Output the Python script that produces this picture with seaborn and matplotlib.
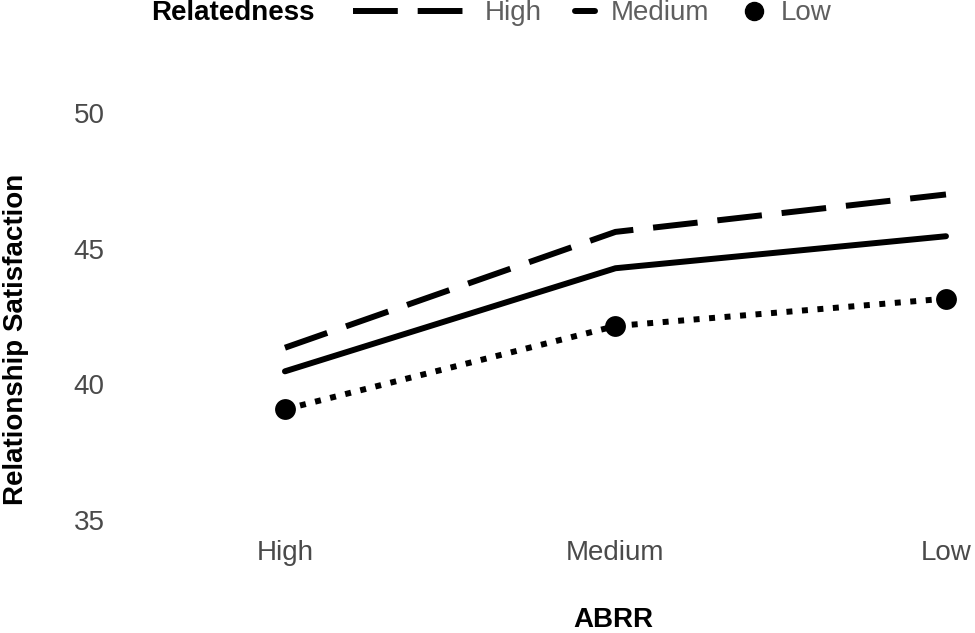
import pandas as pd
import matplotlib
matplotlib.use("Agg")
import matplotlib.pyplot as plt
from matplotlib.lines import Line2D
import seaborn as sns

# Dados
abrr = ['High', 'Medium', 'Low']
relatedness = ['High', 'Medium', 'Low']
sat_high = [41.35, 45.62, 47.0]
sat_medium = [40.48, 44.28, 45.46]
sat_low = [39.08, 42.15, 43.16]

df = pd.DataFrame({
    'ABRR': abrr * 3,
    'Relatedness': [r for r in relatedness for _ in abrr],
    'Satisfaction': sat_high + sat_medium + sat_low,
})

sns.set_theme(style='white')
plt.rcParams['font.family'] = ['Liberation Sans', 'DejaVu Sans']

fig = plt.figure(figsize=(9.75, 6.33), dpi=100)
ax = fig.add_axes([0.1126, 0.1464, 1.0373, 0.7071])

lw = 4.3
sns.lineplot(data=df, x='ABRR', y='Satisfaction', style='Relatedness',
             style_order=relatedness,
             dashes={'High': (7.5, 3.33), 'Medium': '', 'Low': (1, 1.6)},
             color='black', linewidth=lw, legend=False, sort=False, ax=ax)
for line in ax.lines:
    line.set_solid_joinstyle('round')
    line.set_dash_capstyle('butt')

pontos = df[df['Relatedness'] == 'Low']
sns.scatterplot(data=pontos, x='ABRR', y='Satisfaction', color='black',
                s=225, linewidth=0, legend=False, ax=ax, zorder=5)

ax.set_xlim(-0.53, 2.53)
ax.set_ylim(34.25, 50.75)
ax.set_yticks([35, 40, 45, 50])
for s in ax.spines.values():
    s.set_visible(False)
ax.grid(False)
ax.tick_params(axis='both', length=0, labelsize=20, labelcolor='#4a4a4a')
ax.tick_params(axis='y', pad=3.6)
ax.tick_params(axis='x', pad=0)

ax.set_xlabel('ABRR', fontsize=20, fontweight='bold', color='black')
ax.set_ylabel('Relationship Satisfaction', fontsize=20, fontweight='bold', color='black')
ax.xaxis.label.set_va('center')
ax.yaxis.label.set_va('center')
ax.xaxis.set_label_coords(0.498, -0.177)
ax.yaxis.set_label_coords(-0.093, 0.4497)

# Legenda no topo
fig.text(151 / 975, 0.979, 'Relatedness', fontsize=20, fontweight='bold',
         color='black', ha='left', va='center')

chaves = [
    (Line2D([], [], color='black', lw=lw, linestyle=(0, (7.5, 3.33))), 'High', 353, 4.24, 0.5),
    (Line2D([], [], color='black', lw=lw), 'Medium', 575, 0.72, 0.58),
    (Line2D([], [], color='black', marker='o', markersize=13, linestyle='none'), 'Low', 745, 0.65, 0.65),
]
for h, lab, xpx, hl, tp in chaves:
    fig.legend([h], [lab], loc='center left', bbox_to_anchor=(xpx / 975, 0.979),
               frameon=False, borderpad=0, borderaxespad=0, fontsize=20,
               labelcolor='#5f5f5f', handlelength=hl, handletextpad=tp)

plt.savefig('out.png', dpi=100)
